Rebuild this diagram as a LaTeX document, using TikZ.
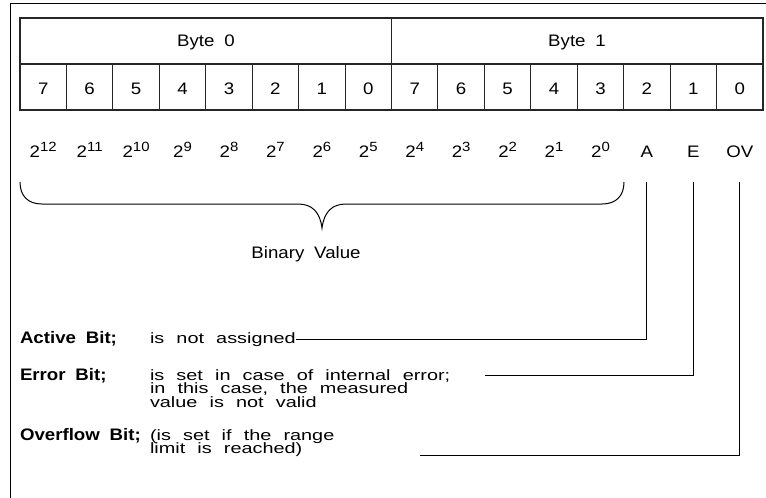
\documentclass[tikz,border=0pt]{standalone}
\usepackage{fontspec}
\setmainfont[WordSpace=1.9,FakeStretch=1.12]{Liberation Sans}
\newfontfamily\descfont[WordSpace=2.2,FakeStretch=1.33]{Liberation Sans}
\newcommand\fsz{\fontsize{12.5pt}{15pt}\selectfont}
\newcommand\dsz{\descfont\fontsize{11.2pt}{13pt}\selectfont}
\newcommand\pwr[1]{2\raisebox{0.62ex}{\fontsize{10pt}{10pt}\selectfont #1}}
\begin{document}
\begin{tikzpicture}[x=0.75pt,y=-0.75pt,
  line width=0.75pt,
  every node/.style={inner sep=0pt, outer sep=0pt, font=\fsz},
  lbl/.style={anchor=base west, font=\fsz\bfseries},
  desc/.style={anchor=base west, font=\dsz},
  grid/.style={draw=black!85, line width=0.8pt},
  conn/.style={draw=black, line width=0.75pt}]
\useasboundingbox (0,0) rectangle (766,497);
% outer frame
\draw (10,500) -- (10,3) -- (770,3);
% table
\draw[grid] (20,18) rectangle (763,110);
\draw[grid] (20,64) -- (763,64);
\draw[grid] (391.5,18) -- (391.5,64);
\foreach \i in {1,...,15} \draw[grid] ({20+46.4375*\i},64) -- ({20+46.4375*\i},110);
\node[anchor=base] (byte0) at (206,46) {Byte 0};
\node[anchor=base] (byte1) at (577,46) {Byte 1};
\foreach \i/\b in {0/7,1/6,2/5,3/4,4/3,5/2,6/1,7/0,8/7,9/6,10/5,11/4,12/3,13/2,14/1,15/0}
  \node[anchor=base] (b\i) at ({20+46.4375*(\i+0.5)},94) {\b};
\foreach \i/\t in {0/\pwr{12},1/\pwr{11},2/\pwr{10},3/\pwr{9},4/\pwr{8},5/\pwr{7},6/\pwr{6},7/\pwr{5},8/\pwr{4},9/\pwr{3},10/\pwr{2},11/\pwr{1},12/\pwr{0},13/A,14/E,15/OV}
  \node[anchor=base] (p\i) at ({20+46.4375*(\i+0.5)},157) {\t};
% brace
\draw[conn] (20,182) .. controls (20,196) and (28,204) .. (42,204) -- (298,204)
  .. controls (312,204) and (320,212) .. (322,228)
  .. controls (324,212) and (332,204) .. (346,204) -- (602,204)
  .. controls (616,204) and (624,196) .. (624,182);
\node[anchor=base] (bin) at (306,258) {Binary Value};
% descriptions
\node[lbl] (act) at (20,343) {Active Bit;};
\node[desc] (actdesc) at (150,343) {is not assigned};
\node[lbl] (err) at (20,380) {Error Bit;};
\node[desc] (errdesc1) at (150,380) {is set in case of internal error;};
\node[desc] (errdesc2) at (150,393.5) {in this case, the measured};
\node[desc] (errdesc3) at (150,407) {value is not valid};
\node[lbl] (ovf) at (20,440) {Overflow Bit;};
\node[desc] (ovfdesc1) at (150,440) {(is set if the range};
\node[desc] (ovfdesc2) at (150,453.5) {limit is reached)};
\coordinate (eend) at (485,375);
\coordinate (ovend) at (420,455);
\draw[conn] (p13.base) ++(0,25) |- (actdesc.east);
\draw[conn] (p14.base) ++(0,25) |- (eend);
\draw[conn] (p15.base) ++(0,25) |- (ovend);
\end{tikzpicture}
\end{document}
